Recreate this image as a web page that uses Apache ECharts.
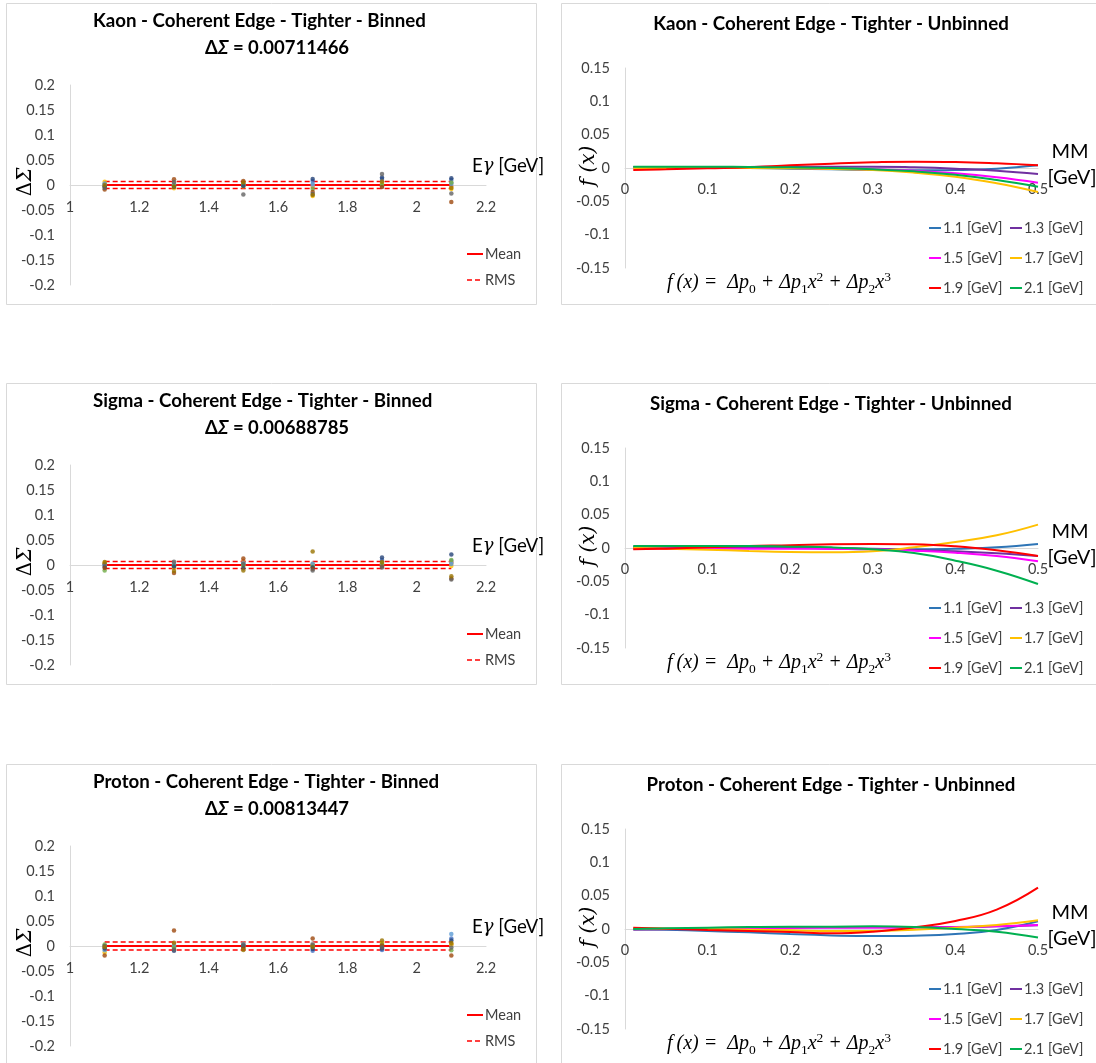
<!DOCTYPE html>
<html>
<head>
<meta charset="utf-8">
<script src="https://cdn.jsdelivr.net/npm/echarts@6/dist/echarts.min.js"></script>
<style>
  html, body { margin: 0; padding: 0; background: #ffffff; overflow: hidden; }
  #chart { width: 1096px; height: 1063px; }
</style>
</head>
<body>
<div id="chart"></div>
<script>
// ---- photon energy bins (binned asymmetry residuals) ----
const ebins = [1.1, 1.3, 1.5, 1.7, 1.9, 2.1];

// each row = one fit variation, values per energy bin
const kaonBinned = [
  [0.002, 0.001, 0.002, 0.008, 0.012, 0.010],
  [-0.002, 0.004, 0.003, -0.004, 0.004, -0.003],
  [0.001, 0.002, -0.001, 0.0, 0.006, 0.004],
  [0.0065, -0.0065, -0.003, -0.022, 0.002, -0.008],
  [0.003, 0.0, 0.0, 0.002, -0.003, 0.002],
  [-0.004, -0.002, 0.001, -0.008, 0.0, 0.005],
  [-0.003, -0.004, -0.002, 0.012, 0.015, 0.0135],
  [-0.009, 0.0116, 0.008, -0.014, -0.004, -0.034],
  [-0.006, 0.006, -0.019, -0.018, 0.022, -0.017],
  [0.0, -0.003, 0.005, -0.020, 0.007, -0.006]
];
const sigmaBinned = [
  [0.001, 0.002, 0.005, 0.0, 0.010, 0.008],
  [0.003, -0.004, 0.008, -0.002, 0.003, 0.005],
  [0.0, 0.004, 0.0, 0.003, -0.002, 0.004],
  [0.0045, -0.006, -0.002, 0.0, 0.001, -0.002],
  [-0.002, 0.0, 0.003, 0.002, 0.0, 0.002],
  [-0.011, -0.002, 0.0, -0.004, 0.004, 0.010],
  [-0.004, -0.003, -0.0065, -0.005, 0.015, 0.021],
  [-0.006, -0.016, 0.013, -0.008, -0.003, -0.027],
  [0.002, 0.0065, 0.002, -0.011, -0.005, -0.029],
  [0.006, -0.012, -0.011, 0.027, 0.006, -0.0226]
];
const protonBinned = [
  [0.0, -0.002, 0.001, -0.0097, -0.0078, 0.015],
  [-0.003, 0.004, -0.003, 0.003, 0.004, 0.004],
  [0.001, 0.001, 0.005, 0.005, 0.0, 0.002],
  [-0.013, -0.005, 0.0, 0.0, 0.006, 0.003],
  [-0.0084, 0.0, 0.002, -0.003, -0.002, 0.024],
  [0.003, -0.003, -0.002, 0.0, 0.003, -0.0084],
  [-0.005, -0.0097, 0.0, -0.006, -0.005, 0.011],
  [-0.019, 0.031, -0.005, 0.015, 0.001, -0.019],
  [0.0, -0.007, 0.003, 0.002, -0.003, -0.003],
  [-0.002, 0.0065, -0.0078, -0.002, 0.011, 0.006]
];

const meanValues = [0, 0, 0];
const deltaSigma = [0.00711466, 0.00688785, 0.00813447];

// ---- unbinned fit curves f(x) sampled along missing mass ----
const mmPoints = [0.01, 0.05, 0.1, 0.15, 0.2, 0.25, 0.3, 0.35, 0.4, 0.45, 0.5];
const fitLabels = ['1.1 [GeV]', '1.3 [GeV]', '1.5 [GeV]', '1.7 [GeV]', '1.9 [GeV]', '2.1 [GeV]'];

const kaonFit = [
  [0.001, 0.001, 0.0005, 0, -0.001, -0.002, -0.003, -0.0035, -0.003, -0.001, 0.004],
  [0.001, 0.001, 0.001, 0.0015, 0.002, 0.002, 0.002, 0.001, -0.001, -0.004, -0.009],
  [0.0005, 0.0005, 0.0005, 0.0005, 0, -0.001, -0.002, -0.004, -0.008, -0.014, -0.022],
  [0, 0, 0, 0, -0.0005, -0.0015, -0.003, -0.007, -0.013, -0.023, -0.036],
  [-0.003, -0.002, -0.0005, 0.001, 0.004, 0.0065, 0.0085, 0.0095, 0.009, 0.007, 0.004],
  [0.002, 0.002, 0.002, 0.0015, 0.001, 0, -0.002, -0.005, -0.010, -0.018, -0.028]
];
const sigmaFit = [
  [0.002, 0.002, 0.001, 0.001, 0, -0.001, -0.002, -0.002, -0.001, 0.001, 0.006],
  [0, 0.0005, 0.001, 0.001, 0.001, 0, -0.001, -0.003, -0.005, -0.008, -0.012],
  [-0.001, -0.001, -0.001, -0.001, -0.001, -0.0015, -0.002, -0.004, -0.007, -0.012, -0.020],
  [0, -0.001, -0.0025, -0.0045, -0.006, -0.0065, -0.005, 0.001, 0.009, 0.019, 0.035],
  [-0.002, -0.001, 0.001, 0.003, 0.004, 0.0055, 0.006, 0.0055, 0.0025, -0.0035, -0.012],
  [0.003, 0.003, 0.003, 0.003, 0.002, 0.001, -0.002, -0.0076, -0.019, -0.034, -0.054]
];
const protonFit = [
  [0, -0.001, -0.003, -0.005, -0.0076, -0.0096, -0.0106, -0.010, -0.0076, -0.0015, 0.0116],
  [-0.001, -0.0005, 0, 0.001, 0.002, 0.0025, 0.003, 0.003, 0.003, 0.004, 0.0055],
  [0, 0, 0.0005, 0.001, 0.0015, 0.002, 0.002, 0.002, 0.003, 0.004, 0.006],
  [0.001, 0.0005, 0, -0.001, -0.002, -0.003, -0.003, -0.001, 0.002, 0.006, 0.013],
  [0.002, 0.0005, -0.0015, -0.003, -0.0045, -0.0065, -0.004, 0.0025, 0.012, 0.029, 0.062],
  [0, 0.001, 0.002, 0.003, 0.0035, 0.0035, 0.004, 0.003, 0, -0.004, -0.0126]
];

const particles = ['Kaon', 'Sigma', 'Proton'];
const binnedSets = [kaonBinned, sigmaBinned, protonBinned];
const fitSets = [kaonFit, sigmaFit, protonFit];

// ---- styling ----
const scatterColors = ['#4472C4', '#ED7D31', '#A5A5A5', '#FFC000', '#5B9BD5', '#70AD47', '#264478', '#9E480E', '#636363', '#997300'];
const fitColors = ['#2E75B6', '#7030A0', '#FF00FF', '#FFC000', '#FF0000', '#00B050'];
const FONT = 'Lato, "Open Sans", sans-serif';
const MATH = '"DejaVu Serif", "Liberation Serif", serif';
const FORMULA = '"Liberation Serif", "DejaVu Serif", serif';
const rowTop = [0, 380, 761];
const axisColor = '#D9D9D9';
const labelColor = '#404040';
const PLOT_H = 200;

const chart = echarts.init(document.getElementById('chart'), null, { renderer: 'canvas' });

const grid = [], xAxis = [], yAxis = [], series = [], graphic = [];

function txt(x, y, text, style, rot) {
  const el = {
    type: 'text', x: x, y: y, z: 100,
    style: Object.assign({
      text: text, fill: '#000000',
      align: 'center', verticalAlign: 'middle',
      textAlign: 'center', textVerticalAlign: 'middle'
    }, style)
  };
  if (rot) el.rotation = rot;
  return el;
}

// place the horizontal axis (line + labels) on y = 0
function zeroOffset(yMin, yMax) {
  return -PLOT_H * (0 - yMin) / (yMax - yMin);
}

particles.forEach(function (name, r) {
  const o = rowTop[r];
  const gB = 2 * r, gU = 2 * r + 1;

  // panel frames
  graphic.push({ type: 'rect', z: 0, shape: { x: 6.5, y: 3.5 + o, width: 530, height: 301 },
    style: { fill: 'none', stroke: axisColor, lineWidth: 1 } });
  graphic.push({ type: 'rect', z: 0, shape: { x: 561.5, y: 3.5 + o, width: 545, height: 301 },
    style: { fill: 'none', stroke: axisColor, lineWidth: 1 } });

  // ---------- binned panel ----------
  grid.push({ left: 70, top: 85 + o, width: 416, height: PLOT_H });
  xAxis.push({
    type: 'value', gridIndex: gB, min: 1, max: 2.2, interval: 0.2,
    position: 'bottom', offset: zeroOffset(-0.2, 0.2),
    axisLine: { onZero: false, lineStyle: { color: axisColor, width: 1 } },
    axisTick: { show: false }, splitLine: { show: false },
    axisLabel: { color: labelColor, fontFamily: FONT, fontSize: 14.5, margin: 15 }
  });
  yAxis.push({
    type: 'value', gridIndex: gB, min: -0.2, max: 0.2, interval: 0.05,
    axisLine: { show: true, lineStyle: { color: axisColor, width: 1 } },
    axisTick: { show: false }, splitLine: { show: false },
    axisLabel: { color: labelColor, fontFamily: FONT, fontSize: 14.5, margin: 15 }
  });

  const ds = deltaSigma[r], mean = meanValues[r];
  series.push({
    type: 'line', xAxisIndex: gB, yAxisIndex: gB, symbol: 'none', silent: true, z: 2,
    lineStyle: { color: '#FF0000', width: 2 },
    data: [[ebins[0], mean], [ebins[ebins.length - 1], mean]]
  });
  [ds, -ds].forEach(function (v) {
    series.push({
      type: 'line', xAxisIndex: gB, yAxisIndex: gB, symbol: 'none', silent: true, z: 2,
      lineStyle: { color: '#FF0000', width: 1.6, type: [5, 3] },
      data: [[ebins[0], mean + v], [ebins[ebins.length - 1], mean + v]]
    });
  });
  binnedSets[r].forEach(function (vals, k) {
    series.push({
      type: 'scatter', xAxisIndex: gB, yAxisIndex: gB, symbolSize: 4.5, z: 3,
      itemStyle: { color: scatterColors[k] },
      data: ebins.map(function (e, i) { return [e, vals[i]]; })
    });
  });

  // binned texts
  graphic.push(txt(93, 21 + o, name + ' - Coherent Edge - Tighter - Binned',
    { fontFamily: FONT, fontWeight: 'bold', fontSize: 18.7, align: 'left', textAlign: 'left' }));
  graphic.push(txt(205, 48 + o, '{d|Δ}{s|Σ}{d| = ' + String(ds) + '}', {
    align: 'left', textAlign: 'left',
    rich: {
      d: { fontFamily: FONT, fontWeight: 'bold', fontSize: 18.5, fill: '#000' },
      s: { fontFamily: FONT, fontWeight: 'bold', fontStyle: 'italic', fontSize: 18.5, fill: '#000' }
    }
  }));
  graphic.push(txt(26, 182 + o, '{d|Δ}{s|Σ}', {
    rich: {
      d: { fontFamily: MATH, fontSize: 20, fill: '#000' },
      s: { fontFamily: MATH, fontStyle: 'italic', fontSize: 20, fill: '#000' }
    }
  }, Math.PI / 2));
  graphic.push(txt(472, 166 + o, '{n|E}{g|γ}{n| [GeV]}', {
    align: 'left', textAlign: 'left',
    rich: {
      n: { fontFamily: FONT, fontSize: 18.7, fill: '#000' },
      g: { fontFamily: MATH, fontStyle: 'italic', fontSize: 18, fill: '#000' }
    }
  }));
  graphic.push({ type: 'line', z: 100, shape: { x1: 467, y1: 254 + o, x2: 483, y2: 254 + o },
    style: { stroke: '#FF0000', lineWidth: 2 } });
  graphic.push(txt(485, 254 + o, 'Mean', { fontFamily: FONT, fontSize: 14.5, fill: labelColor, align: 'left', textAlign: 'left' }));
  graphic.push({ type: 'line', z: 100, shape: { x1: 467, y1: 280 + o, x2: 483, y2: 280 + o },
    style: { stroke: '#FF0000', lineWidth: 1.6, lineDash: [5, 3] } });
  graphic.push(txt(485, 280 + o, 'RMS', { fontFamily: FONT, fontSize: 14.5, fill: labelColor, align: 'left', textAlign: 'left' }));

  // ---------- unbinned panel ----------
  grid.push({ left: 625, top: 68 + o, width: 413, height: PLOT_H });
  xAxis.push({
    type: 'value', gridIndex: gU, min: 0, max: 0.5, interval: 0.1,
    position: 'bottom', offset: zeroOffset(-0.15, 0.15),
    axisLine: { onZero: false, lineStyle: { color: axisColor, width: 1 } },
    axisTick: { show: false }, splitLine: { show: false },
    axisLabel: { color: labelColor, fontFamily: FONT, fontSize: 14.5, margin: 14 }
  });
  yAxis.push({
    type: 'value', gridIndex: gU, min: -0.15, max: 0.15, interval: 0.05,
    axisLine: { show: true, lineStyle: { color: axisColor, width: 1 } },
    axisTick: { show: false }, splitLine: { show: false },
    axisLabel: { color: labelColor, fontFamily: FONT, fontSize: 14.5, margin: 15 }
  });
  fitSets[r].forEach(function (vals, k) {
    series.push({
      type: 'line', name: fitLabels[k], xAxisIndex: gU, yAxisIndex: gU,
      symbol: 'none', smooth: 0.45, silent: true,
      lineStyle: { color: fitColors[k], width: 2 },
      data: mmPoints.map(function (x, i) { return [x, vals[i]]; })
    });
  });

  graphic.push(txt(831, 24 + o, name + ' - Coherent Edge - Tighter - Unbinned',
    { fontFamily: FONT, fontWeight: 'bold', fontSize: 18.7 }));
  graphic.push(txt(589, 166 + o, 'f (x)', { fontFamily: MATH, fontStyle: 'italic', fontSize: 20 }, Math.PI / 2));
  graphic.push(txt(1070, 152 + o, 'MM', { fontFamily: FONT, fontSize: 20 }));
  graphic.push(txt(1072, 178 + o, '[GeV]', { fontFamily: FONT, fontSize: 20 }));
  graphic.push(txt(667, 283 + o,
    '{n|f\u2009(x) =  Δp}{b|0}{n| + Δp}{b|1}{n|x}{t|2}{n| + Δp}{b|2}{n|x}{t|3}', {
    align: 'left', textAlign: 'left',
    rich: {
      n: { fontFamily: FORMULA, fontStyle: 'italic', fontSize: 20, lineHeight: 26, fill: '#000' },
      b: { fontFamily: FORMULA, fontSize: 13.5, lineHeight: 26, verticalAlign: 'bottom', fill: '#000' },
      t: { fontFamily: FORMULA, fontSize: 13.5, lineHeight: 26, verticalAlign: 'top', fill: '#000' }
    }
  }));

  // fit legend, two columns
  fitLabels.forEach(function (lab, k) {
    const col = k % 2, row = Math.floor(k / 2);
    const lx = col === 0 ? 929 : 1010;
    const ly = 228 + row * 30 + o;
    graphic.push({ type: 'line', z: 100, shape: { x1: lx, y1: ly, x2: lx + 12, y2: ly },
      style: { stroke: fitColors[k], lineWidth: 2 } });
    graphic.push(txt(lx + 14, ly, lab, { fontFamily: FONT, fontSize: 14.5, fill: labelColor, align: 'left', textAlign: 'left' }));
  });
});

chart.setOption({
  animation: false,
  backgroundColor: '#ffffff',
  grid: grid,
  xAxis: xAxis,
  yAxis: yAxis,
  series: series,
  graphic: { elements: graphic }
});
</script>
</body>
</html>
